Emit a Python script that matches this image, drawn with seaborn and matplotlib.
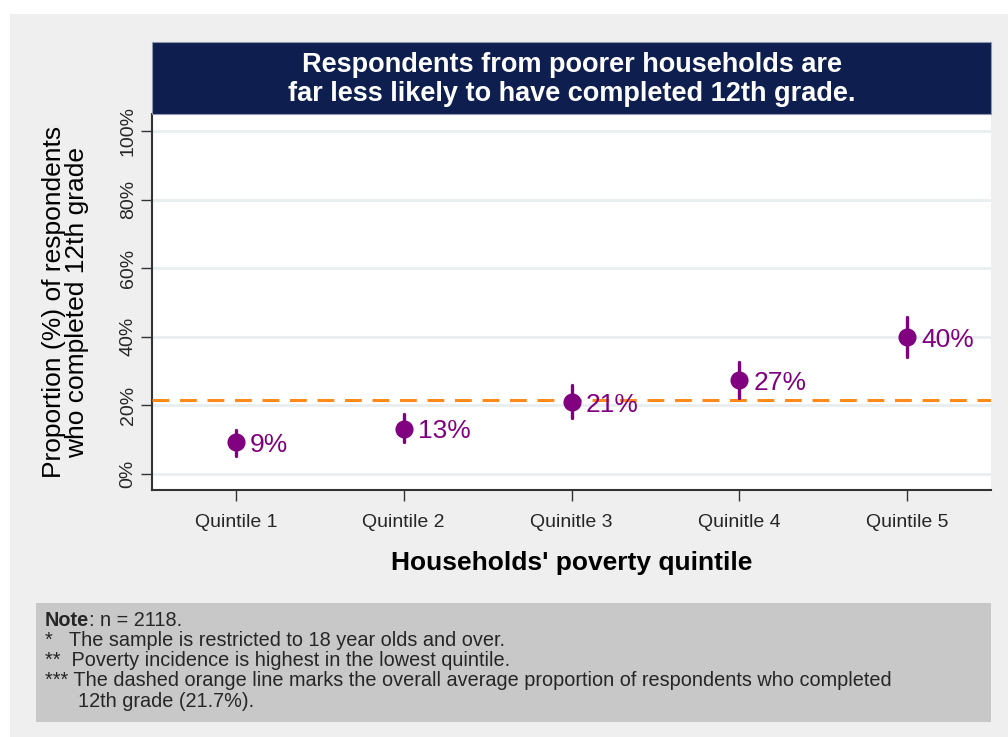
import numpy as np
import pandas as pd
import matplotlib
matplotlib.use("Agg")
import matplotlib.pyplot as plt
from matplotlib.patches import Rectangle
import seaborn as sns

# Share of respondents (18+) who completed 12th grade, by poverty quintile
quintiles = ["Quintile 1", "Quintile 2", "Quinitle 3", "Quinitle 4", "Quintile 5"]
estimate = [9.3, 13.2, 21.0, 27.3, 40.0]
ci_low = [5.3, 9.3, 16.3, 22.0, 34.2]
ci_high = [12.8, 17.6, 26.0, 32.6, 45.8]
overall_avg = 21.7
y_ticks = [0, 20, 40, 60, 80, 100]

title_text = ("Respondents from poorer households are\n"
              "far less likely to have completed 12th grade.")
y_label = "Proportion (%) of respondents\nwho completed 12th grade"
x_label = "Households' poverty quintile"

purple = "#800080"
orange = "#ff8a1c"
navy = "#0e1f4f"

# long table: low / estimate / high per quintile; the median is the estimate
df = pd.DataFrame({
    "quintile": np.repeat(quintiles, 3),
    "value": np.ravel(np.column_stack([ci_low, estimate, ci_high])),
})

sns.set_theme(style="white")
plt.rcParams["font.family"] = ["Liberation Sans", "DejaVu Sans"]

W, H = 1008, 737
fig = plt.figure(figsize=(W / 100, H / 100), dpi=100)
fig.patch.set_facecolor("white")

def fx(px):
    return px / W

def fy(py):
    return 1 - py / H

# grey canvas behind everything
fig.patches.append(Rectangle((fx(10), 0), 1 - fx(10), fy(14), transform=fig.transFigure,
                             facecolor="#efefef", edgecolor="none", zorder=-10))
# title banner
fig.patches.append(Rectangle((fx(152), fy(114)), fx(991) - fx(152), fy(42) - fy(114),
                             transform=fig.transFigure, facecolor=navy,
                             edgecolor="#8f96b0", linewidth=0.8, zorder=1))
fig.text((fx(152) + fx(991)) / 2, (fy(42) + fy(114)) / 2 - 0.002, title_text, color="white",
         fontsize=19.5, fontweight="bold", ha="center", va="center", linespacing=1.15,
         zorder=2)

ax = fig.add_axes([fx(152), fy(490), fx(991) - fx(152), fy(114) - fy(490)])
ax.set_facecolor("white")

sns.pointplot(data=df, x="quintile", y="value", order=quintiles,
              estimator=np.median, errorbar=lambda v: (v.min(), v.max()),
              linestyle="none", markers="o", color=purple, markersize=11,
              err_kws={"linewidth": 2.4}, ax=ax, zorder=4)

ax.axhline(overall_avg, color=orange, linewidth=2.2, dashes=(5.5, 3.5), zorder=3)

for i, v in enumerate(estimate):
    ax.annotate(f"{v:.0f}%", (i, v), xytext=(10, -2), textcoords="offset points",
                color=purple, fontsize=19, va="center", ha="left", zorder=5)

ax.set_xlim(-0.5, 4.5)
ax.set_ylim(-4.7, 105)
ax.set_yticks(y_ticks)
ax.set_yticklabels([f"{t}%" for t in y_ticks], rotation=90, va="center", fontsize=14)
ax.yaxis.grid(True, color="#e8eff1", linewidth=2)
ax.set_axisbelow(True)
ax.tick_params(axis="y", length=8, width=1, color="#333333", pad=3, left=True)
ax.tick_params(axis="x", length=8, width=1, color="#333333", pad=9, bottom=True,
               labelsize=14)

for side in ["top", "right"]:
    ax.spines[side].set_visible(False)
for side in ["left", "bottom"]:
    ax.spines[side].set_color("#333333")
    ax.spines[side].set_linewidth(1.5)

ax.set_ylabel(y_label, fontsize=19, color="black", labelpad=22, linespacing=0.95)
ax.set_xlabel(x_label, fontsize=19, fontweight="bold", color="black", labelpad=15)

# notes panel
fig.patches.append(Rectangle((fx(36), fy(722)), fx(991) - fx(36), fy(603) - fy(722),
                             transform=fig.transFigure, facecolor="#c8c8c8",
                             edgecolor="none", zorder=1))
note_lines = [
    "*   The sample is restricted to 18 year olds and over.",
    "**  Poverty incidence is highest in the lowest quintile.",
    "*** The dashed orange line marks the overall average proportion of respondents who completed",
    "      12th grade (21.7%).",
]
note_size = 14.3
t_note = fig.text(fx(45), fy(620), "Note", fontsize=note_size, fontweight="bold",
                  va="center", zorder=2)
fig.canvas.draw()
bb = t_note.get_window_extent()
fig.text(bb.x1 / W, fy(620), ": n = 2118.", fontsize=note_size, va="center", zorder=2)
for k, line in enumerate(note_lines):
    fig.text(fx(45), fy(640 + k * 20.5), line, fontsize=note_size, va="center", zorder=2)

fig.savefig("out.png", dpi=100)
